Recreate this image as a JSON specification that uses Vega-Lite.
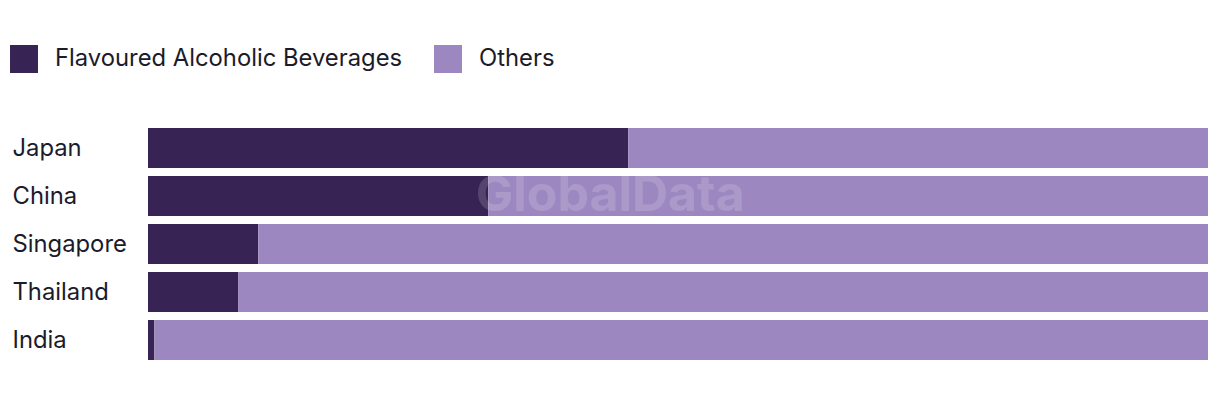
{
  "$schema": "https://vega.github.io/schema/vega-lite/v6.json",
  "width": 1060,
  "height": 240,
  "autosize": {"type": "none"},
  "padding": {"left": 148, "top": 124, "right": 12, "bottom": 40},
  "background": "white",
  "config": {"view": {"stroke": null}, "font": "Inter"},
  "data": {
    "values": [
      {"country": "Japan", "category": "Flavoured Alcoholic Beverages", "value": 45.3},
      {"country": "Japan", "category": "Others", "value": 54.7},
      {"country": "China", "category": "Flavoured Alcoholic Beverages", "value": 32.1},
      {"country": "China", "category": "Others", "value": 67.9},
      {"country": "Singapore", "category": "Flavoured Alcoholic Beverages", "value": 10.4},
      {"country": "Singapore", "category": "Others", "value": 89.6},
      {"country": "Thailand", "category": "Flavoured Alcoholic Beverages", "value": 8.5},
      {"country": "Thailand", "category": "Others", "value": 91.5},
      {"country": "India", "category": "Flavoured Alcoholic Beverages", "value": 0.6},
      {"country": "India", "category": "Others", "value": 99.4}
    ]
  },
  "layer": [
    {
      "mark": {"type": "bar"},
      "encoding": {
        "y": {
          "field": "country",
          "type": "nominal",
          "sort": ["Japan", "China", "Singapore", "Thailand", "India"],
          "scale": {"paddingInner": 0.1667, "paddingOuter": 0.0833},
          "axis": {
            "title": null,
            "domain": false,
            "ticks": false,
            "labelAlign": "left",
            "labelPadding": 136,
            "labelOffset": 1,
            "labelFontSize": 23.8,
            "labelFont": "Inter",
            "labelFontWeight": 400,
            "labelColor": "#1b1b2b"
          }
        },
        "x": {
          "field": "value",
          "type": "quantitative",
          "stack": "zero",
          "scale": {"domain": [0, 100], "nice": false},
          "axis": null
        },
        "color": {
          "field": "category",
          "type": "nominal",
          "scale": {
            "domain": ["Flavoured Alcoholic Beverages", "Others"],
            "range": ["#372454", "#9d87c0"]
          },
          "legend": {
            "title": null,
            "orient": "none",
            "legendX": -138,
            "legendY": -79,
            "direction": "horizontal",
            "symbolType": "square",
            "symbolSize": 784,
            "symbolStrokeWidth": 0,
            "symbolOpacity": 1,
            "labelFontSize": 23.8,
            "labelFont": "Inter",
            "labelFontWeight": 400,
            "labelColor": "#1b1b2b",
            "labelOffset": 17,
            "columnPadding": 31,
            "labelLimit": 500
          }
        }
      }
    },
    {
      "data": {"values": [{"wm": "GlobalData"}]},
      "mark": {
        "type": "text",
        "font": "Inter",
        "fontWeight": "bold",
        "fontSize": 50,
        "color": "white",
        "opacity": 0.15,
        "baseline": "middle"
      },
      "encoding": {
        "text": {"field": "wm", "type": "nominal"},
        "x": {"datum": 43.6, "type": "quantitative"},
        "y": {"datum": "China", "type": "nominal"}
      }
    }
  ]
}
